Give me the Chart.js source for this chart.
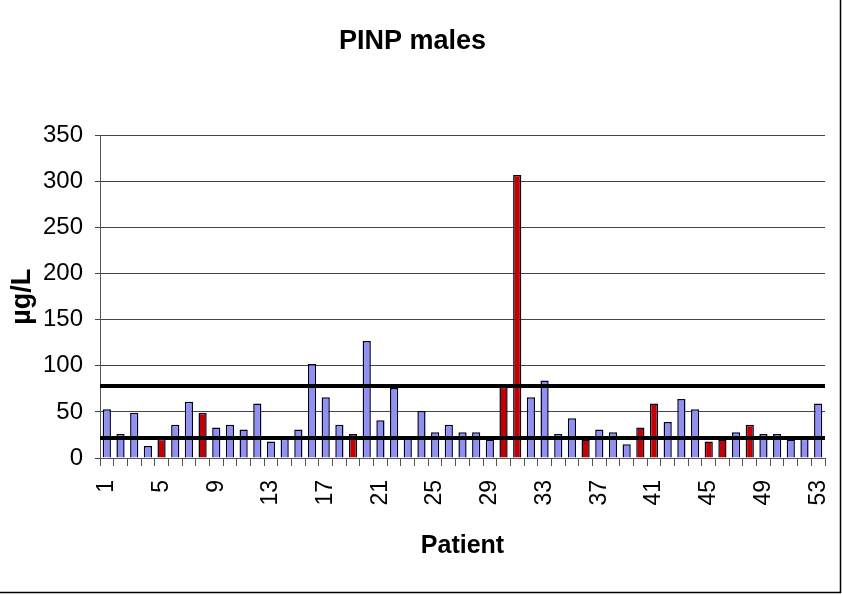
<!DOCTYPE html>
<html>
<head>
<meta charset="utf-8">
<script src="https://cdn.jsdelivr.net/npm/chart.js@4.4.1/dist/chart.umd.min.js"></script>
<style>
  html, body { margin: 0; padding: 0; background: #fff; }
  #wrap { width: 842px; height: 595px; }
</style>
</head>
<body>
<div id="wrap"><canvas id="pinpChart" width="842" height="595"></canvas></div>
<script>
// Patientennummern (x-Achse)
const patients = ['1','2','3','4','5','6','7','8','9','10','11','12','13','14','15','16','17','18',
  '19','20','21','22','23','24','25','26','27','28','29','30','31','32','33','34','35','36',
  '37','38','39','40','41','42','43','44','45','46','47','48','49','50','51','52','53'];

// PINP-Werte in µg/L
const pinpValues = [53, 26, 49, 13, 21, 36, 61, 49, 33, 36, 31, 59, 18, 21, 31, 102, 66, 36,
  26, 127, 41, 76, 21, 51, 28, 36, 28, 28, 20, 77, 307, 66, 84, 26, 43, 20,
  31, 28, 15, 33, 59, 39, 64, 53, 18, 20, 28, 36, 26, 26, 20, 21, 59];

// rot markierte Patienten
const markedPatients = ['5','8','19','30','31','36','40','41','45','46','48'];

// beschriftete Ticks und Referenzlinien
const shownTicks = ['1','5','9','13','17','21','25','29','33','37','41','45','49','53'];
const yTicks = [0, 50, 100, 150, 200, 250, 300, 350];
const refLines = [78, 22];

const fontFam = "'Liberation Sans', Arial, sans-serif";
const blue = '#9090f2';
const red = '#c40000';

const barColors = patients.map(p => markedPatients.includes(p) ? red : blue);

// Hintergrund + Rahmen (nur rechts und unten sichtbar)
const framePlugin = {
  id: 'frame',
  beforeDraw(chart) {
    const ctx = chart.ctx;
    ctx.save();
    ctx.fillStyle = '#fff';
    ctx.fillRect(0, 0, chart.width, chart.height);
    ctx.restore();
  },
  afterDraw(chart) {
    const ctx = chart.ctx;
    ctx.save();
    ctx.strokeStyle = '#000';
    ctx.lineWidth = 1.5;
    ctx.strokeRect(-5, -5, 845.5, 597.5);
    ctx.restore();
  }
};

// dicke Referenzlinien über den Balken
const refLinePlugin = {
  id: 'refLines',
  afterDatasetsDraw(chart) {
    const ctx = chart.ctx;
    const area = chart.chartArea;
    const y = chart.scales.y;
    ctx.save();
    ctx.strokeStyle = '#000';
    ctx.lineWidth = 4;
    refLines.forEach(v => {
      const py = Math.round(y.getPixelForValue(v));
      ctx.beginPath();
      ctx.moveTo(area.left, py);
      ctx.lineTo(area.right, py);
      ctx.stroke();
    });
    ctx.restore();
  }
};

new Chart(document.getElementById('pinpChart'), {
  type: 'bar',
  data: {
    labels: patients,
    datasets: [{
      label: 'PINP',
      data: pinpValues,
      backgroundColor: barColors,
      borderColor: '#000022',
      borderWidth: 1.5,
      barPercentage: 0.6,
      categoryPercentage: 1.0
    }]
  },
  options: {
    responsive: false,
    animation: false,
    devicePixelRatio: 1,
    layout: { padding: { left: 0, right: 17, top: 0, bottom: 0 } },
    plugins: {
      legend: { display: false },
      tooltip: { enabled: false },
      title: {
        display: true,
        text: 'PINP males',
        color: '#000',
        font: { family: fontFam, size: 27, weight: 'bold' },
        padding: { top: 25, bottom: 78 }
      }
    },
    scales: {
      x: {
        afterFit: s => { s.height = 137; s.paddingLeft = 0; s.paddingRight = 0; },
        grid: {
          display: true,
          offset: true,
          drawOnChartArea: false,
          tickLength: 8,
          color: '#555'
        },
        border: { display: true, color: '#555', width: 1 },
        ticks: {
          autoSkip: false,
          minRotation: 90,
          maxRotation: 90,
          padding: 14,
          color: '#000',
          font: { family: fontFam, size: 23 },
          callback: function (value) {
            const lab = this.getLabelForValue(value);
            return shownTicks.includes(lab) ? lab : '';
          }
        },
        title: {
          display: true,
          text: 'Patient',
          color: '#000',
          font: { family: fontFam, size: 25, weight: 'bold' },
          padding: { top: 0, bottom: 34 }
        }
      },
      y: {
        min: 0,
        max: 350,
        afterFit: s => { s.width = 100; },
        afterBuildTicks: s => { s.ticks = yTicks.map(v => ({ value: v })); },
        grid: { color: '#444', lineWidth: 1, tickLength: 5 },
        border: { display: true, color: '#555', width: 1 },
        ticks: {
          padding: 12,
          color: '#000',
          font: { family: fontFam, size: 24 }
        },
        title: {
          display: true,
          text: 'µg/L',
          color: '#000',
          font: { family: fontFam, size: 27, weight: 'bold' },
          padding: { top: 6, bottom: 0 }
        }
      }
    }
  },
  plugins: [framePlugin, refLinePlugin]
});
</script>
</body>
</html>
